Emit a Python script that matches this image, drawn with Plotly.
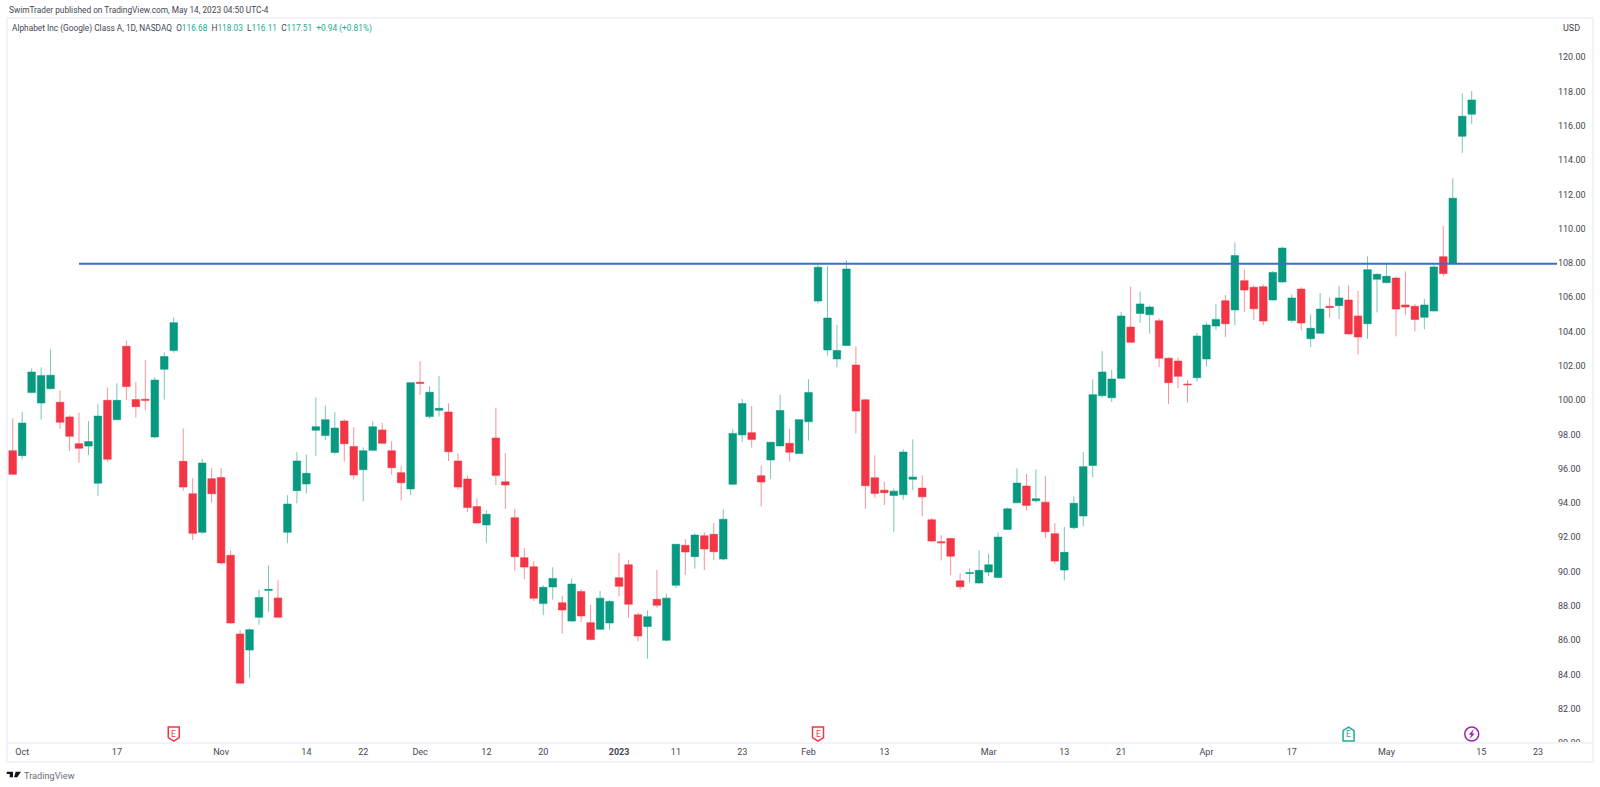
import plotly.graph_objects as go
import pandas as pd

# sessions shown on the chart, Sep 30 2022 -> May 12 2023 (then empty space on the right)
holidays = ['2022-11-24', '2022-12-26', '2023-01-02', '2023-01-16', '2023-02-20', '2023-04-07']
days = pd.bdate_range('2022-09-30', '2023-05-26')
dates = [d.strftime('%Y-%m-%d') for d in days if d.strftime('%Y-%m-%d') not in holidays]

opens = [
    97.05, 96.76, 100.44, 99.83, 100.67, 99.87, 99.02, 97.46, 97.32, 95.15,
    99.99, 98.86, 103.14, 100.03, 100.05, 97.85, 101.80, 102.89, 96.43, 94.54,
    92.29, 95.42, 95.48, 90.95, 86.36, 85.42, 87.33, 88.90, 88.46, 92.29,
    94.72, 95.11, 98.24, 97.93, 96.95, 98.78, 97.29, 95.94, 97.07, 98.26,
    97.05, 95.77, 94.82, 101.04, 99.04, 99.41, 99.31, 96.45, 95.40, 93.79,
    92.72, 97.79, 95.24, 93.14, 90.81, 90.28, 88.13, 89.10, 88.18, 87.11,
    88.83, 87.02, 86.63, 87.00, 89.64, 90.40, 87.48, 86.80, 88.38, 85.99,
    89.20, 91.53, 90.87, 92.09, 92.17, 90.73, 95.09, 97.97, 98.10, 95.59,
    96.51, 97.33, 97.48, 96.88, 98.74, 105.78, 102.92, 102.40, 103.19, 102.05,
    100.02, 95.47, 94.75, 94.44, 94.48, 95.38, 94.87, 93.02, 91.74, 91.93,
    89.46, 89.89, 89.33, 89.97, 89.66, 92.46, 94.01, 94.99, 94.13, 94.05,
    92.21, 90.09, 92.56, 93.24, 96.19, 100.26, 100.14, 101.27, 104.26, 105.06,
    104.98, 104.63, 102.45, 102.28, 100.94, 101.31, 102.40, 104.32, 105.80, 105.26,
    106.97, 106.58, 106.62, 105.84, 106.89, 104.65, 106.48, 103.58, 103.90, 105.47,
    105.51, 105.84, 104.91, 104.46, 107.05, 106.85, 107.12, 105.55, 105.47, 104.83,
    105.20, 108.37, 107.98, 115.39, 116.68,
]
highs = [
    98.94, 99.31, 101.85, 101.91, 102.96, 100.55, 99.11, 99.27, 98.78, 99.79,
    100.73, 100.98, 103.47, 101.06, 102.34, 101.33, 102.79, 104.83, 98.35, 95.44,
    96.57, 96.04, 96.04, 91.22, 86.57, 86.69, 88.94, 90.36, 89.49, 94.45,
    96.97, 96.82, 100.16, 99.68, 99.31, 98.90, 98.43, 97.25, 98.78, 98.67,
    97.62, 96.14, 101.05, 102.27, 100.81, 101.41, 99.81, 96.90, 95.61, 94.27,
    93.57, 99.56, 96.90, 93.67, 91.37, 90.62, 89.20, 90.25, 88.59, 89.60,
    88.98, 88.05, 88.87, 88.36, 91.08, 90.67, 87.62, 87.74, 90.09, 88.71,
    91.60, 91.88, 92.23, 92.29, 92.83, 93.63, 98.32, 100.07, 99.66, 96.18,
    97.58, 100.32, 98.32, 98.88, 101.22, 107.88, 107.82, 104.40, 108.17, 103.14,
    100.05, 96.78, 95.24, 94.85, 97.13, 97.71, 95.61, 93.14, 92.13, 91.97,
    89.91, 90.18, 91.25, 91.04, 92.28, 93.74, 96.02, 95.69, 95.96, 95.57,
    92.83, 92.61, 94.40, 96.97, 101.21, 102.86, 101.77, 105.14, 106.62, 106.34,
    105.53, 104.77, 102.48, 102.49, 101.17, 103.92, 104.54, 105.61, 106.13, 109.21,
    107.63, 106.71, 106.75, 107.53, 108.95, 106.17, 106.58, 105.00, 106.25, 105.99,
    106.66, 106.70, 106.37, 108.39, 107.40, 107.94, 107.20, 107.51, 105.61, 105.90,
    107.92, 110.16, 112.94, 117.90, 118.03,
]
lows = [
    95.63, 96.55, 100.40, 98.86, 100.63, 98.32, 97.03, 96.35, 96.80, 94.41,
    96.41, 98.84, 100.01, 98.98, 99.42, 97.77, 100.03, 102.77, 94.72, 91.84,
    92.19, 94.02, 90.44, 86.96, 83.45, 83.77, 86.90, 87.64, 87.31, 91.66,
    93.98, 94.56, 96.74, 97.67, 96.82, 96.41, 95.38, 94.10, 97.05, 97.44,
    95.65, 94.15, 94.45, 100.30, 98.92, 99.04, 96.45, 94.78, 93.47, 92.79,
    91.67, 95.05, 93.65, 90.05, 89.56, 88.28, 87.46, 88.36, 86.38, 87.08,
    87.05, 85.99, 86.61, 86.61, 88.55, 87.31, 85.93, 84.92, 87.89, 85.91,
    89.04, 89.80, 90.17, 90.09, 90.67, 90.65, 95.05, 97.56, 97.23, 93.80,
    95.40, 97.29, 96.41, 96.85, 97.64, 105.63, 102.59, 101.91, 103.16, 98.06,
    93.66, 94.29, 93.88, 92.30, 94.19, 94.75, 93.24, 91.74, 90.65, 89.79,
    88.94, 89.35, 89.31, 89.74, 89.64, 92.44, 93.99, 93.55, 94.03, 91.95,
    90.44, 89.48, 92.46, 92.65, 95.51, 100.14, 99.89, 101.25, 103.35, 104.50,
    103.87, 101.93, 99.77, 100.70, 99.85, 101.08, 101.95, 104.09, 103.68, 104.37,
    105.14, 104.67, 104.37, 105.82, 106.87, 104.52, 104.07, 103.10, 103.88, 104.81,
    104.73, 103.84, 102.67, 103.57, 105.12, 106.83, 103.72, 104.97, 104.00, 104.13,
    105.18, 107.22, 107.96, 114.42, 116.11,
]
closes = [
    95.67, 98.66, 101.64, 101.43, 101.45, 98.71, 97.89, 97.19, 97.58, 99.07,
    96.55, 99.99, 100.79, 99.62, 99.99, 101.17, 102.54, 104.52, 94.93, 92.23,
    96.33, 94.54, 90.50, 87.00, 83.49, 86.61, 88.49, 88.96, 87.33, 93.94,
    96.45, 95.73, 98.45, 98.86, 98.37, 97.46, 95.63, 97.05, 98.45, 97.48,
    96.06, 95.18, 101.02, 100.98, 100.46, 99.52, 96.99, 94.93, 93.73, 92.83,
    93.34, 95.61, 95.05, 90.87, 90.26, 88.44, 89.08, 89.60, 87.76, 89.27,
    87.41, 86.03, 88.45, 88.26, 89.14, 88.09, 86.24, 87.37, 88.03, 88.45,
    91.59, 91.14, 92.13, 91.32, 91.16, 93.05, 98.06, 99.80, 97.71, 95.22,
    97.54, 99.39, 96.96, 98.86, 100.44, 107.75, 104.79, 102.90, 107.65, 99.36,
    95.01, 94.56, 94.60, 94.69, 96.97, 95.51, 94.36, 91.78, 91.68, 90.90,
    89.11, 89.93, 90.07, 90.40, 92.01, 93.66, 95.16, 93.86, 94.25, 92.32,
    90.61, 91.12, 93.98, 96.12, 100.32, 101.64, 101.23, 104.91, 103.37, 105.61,
    105.43, 102.44, 101.02, 101.39, 100.90, 103.74, 104.38, 104.71, 104.46, 108.43,
    106.42, 105.33, 104.61, 107.45, 108.87, 105.96, 104.50, 104.19, 105.31, 105.41,
    105.96, 103.86, 103.68, 107.61, 107.34, 107.22, 105.31, 105.43, 104.71, 105.55,
    107.77, 107.38, 111.78, 116.56, 117.51,
]

tick_dates = ['2022-10-03', '2022-10-17', '2022-11-01', '2022-11-14', '2022-11-22', '2022-12-01',
              '2022-12-12', '2022-12-20', '2023-01-03', '2023-01-11', '2023-01-23', '2023-02-01',
              '2023-02-13', '2023-03-01', '2023-03-13', '2023-03-21', '2023-04-03', '2023-04-17',
              '2023-05-01', '2023-05-15', '2023-05-23']
tick_labels = ['Oct', '17', 'Nov', '14', '22', 'Dec', '12', '20', '<b>2023</b>', '11', '23', 'Feb',
               '13', 'Mar', '13', '21', 'Apr', '17', 'May', '15', '23']
price_ticks = [80, 82, 84, 86, 88, 90, 92, 94, 96, 98, 100, 102, 104, 106, 108, 110, 112, 114, 116, 118, 120]

level = 107.95
level_start = '2022-10-11'
earnings_miss = ['2022-10-25', '2023-02-02']
earnings_beat = ['2023-04-25']
dividend = ['2023-05-12']

FONT = 'Roboto'
TEXT = '#434651'
GREEN = '#089981'
RED = '#f23645'
FRAME = '#f0f3fa'
MARK_Y = 80.52

# plot area in page pixels
L, R, T, B = 7, 1557, 18, 743


def px(x):
    return (x - L) / (R - L)


def py(y):
    return (B - y) / (B - T)


fig = go.Figure()

fig.add_trace(go.Candlestick(
    x=dates[:len(closes)],
    open=opens, high=highs, low=lows, close=closes,
    increasing=dict(fillcolor=GREEN, line=dict(color='rgba(8,153,129,0.55)', width=1)),
    decreasing=dict(fillcolor=RED, line=dict(color='rgba(242,54,69,0.55)', width=1)),
    whiskerwidth=0,
    showlegend=False,
))

fig.add_trace(go.Scatter(
    x=[level_start, dates[-1]], y=[level, level],
    mode='lines', line=dict(color='#3a6fc4', width=2),
    showlegend=False,
))

shapes = []

# earnings flags, drawn in pixels around their date
down_flag = 'M -5.5 7 L 5.5 7 L 5.5 -3.5 L 0 -7 L -5.5 -3.5 Z'
up_flag = 'M -5.5 -7 L 5.5 -7 L 5.5 3.5 L 0 7 L -5.5 3.5 Z'
bolt = 'M 2 5 L -3 -0.7 L -0.5 -0.7 L -2 -5 L 3 0.7 L 0.5 0.7 Z'
for d in earnings_miss:
    shapes.append(dict(type='path', path=down_flag, xsizemode='pixel', ysizemode='pixel',
                       xanchor=d, yanchor=MARK_Y, xref='x', yref='y',
                       line=dict(color=RED, width=1.5), fillcolor='white'))
for d in earnings_beat:
    shapes.append(dict(type='path', path=up_flag, xsizemode='pixel', ysizemode='pixel',
                       xanchor=d, yanchor=MARK_Y, xref='x', yref='y',
                       line=dict(color='#22ab94', width=1.5), fillcolor='white'))
for d in dividend:
    shapes.append(dict(type='circle', xsizemode='pixel', ysizemode='pixel',
                       xanchor=d, yanchor=MARK_Y, xref='x', yref='y',
                       x0=-7, x1=7, y0=-7, y1=7,
                       line=dict(color='#9c27b0', width=1.5), fillcolor='white'))
    shapes.append(dict(type='path', path=bolt, xsizemode='pixel', ysizemode='pixel',
                       xanchor=d, yanchor=MARK_Y, xref='x', yref='y',
                       line=dict(width=0), fillcolor='#9c27b0'))

# hides the lower half of the 80.00 label, the axis cuts it in the original
shapes.append(dict(type='rect', xref='paper', yref='paper', x0=px(1558), x1=px(1592), y0=py(761), y1=py(743),
                   fillcolor='white', line=dict(width=0), layer='above'))
# outer frame and the line above the time scale
shapes.append(dict(type='rect', xref='paper', yref='paper', x0=px(7), x1=px(1593), y0=py(762), y1=py(18),
                   line=dict(color=FRAME, width=2), layer='above'))
shapes.append(dict(type='line', xref='paper', yref='paper', x0=px(7), x1=px(1593), y0=py(743), y1=py(743),
                   line=dict(color=FRAME, width=2), layer='above'))

# logo bottom left
logo = (f'M {px(6.7)} {py(771.7)} L {px(13)} {py(771.7)} L {px(13)} {py(777.2)} L {px(9.7)} {py(777.2)} '
        f'L {px(9.7)} {py(774)} L {px(6.7)} {py(774)} Z '
        f'M {px(15.7)} {py(771.7)} L {px(21)} {py(771.7)} L {px(17.3)} {py(777.2)} L {px(14)} {py(777.2)} Z')
shapes.append(dict(type='path', path=logo, xref='paper', yref='paper', fillcolor='#131722', line=dict(width=0)))

ann = []


def note(x, y, text, size=8.3, color=TEXT, anchor='left'):
    ann.append(dict(xref='paper', yref='paper', x=px(x), y=py(y), text=text, showarrow=False,
                    xanchor=anchor, yanchor='middle', font=dict(family=FONT, size=size, color=color)))


up = '#22ab94'
note(7, 10, 'SwimTrader published on TradingView.com, May 14, 2023 04:50 UTC-4')
note(10, 29, 'Alphabet Inc (Google) Class A, 1D, NASDAQ&nbsp;&nbsp;'
     f'O<span style="color:{up}">116.68</span>&nbsp;&nbsp;H<span style="color:{up}">118.03</span>&nbsp;&nbsp;'
     f'L<span style="color:{up}">116.11</span>&nbsp;&nbsp;C<span style="color:{up}">117.51</span>&nbsp;&nbsp;'
     f'<span style="color:{up}">+0.94 (+0.81%)</span>')
note(1561, 28, 'USD', size=9)
note(22, 775, 'TradingView', size=9.2, color='#6a6d78')

for d in earnings_miss:
    ann.append(dict(x=d, y=MARK_Y, text='E', showarrow=False, font=dict(family=FONT, size=8.5, color=RED)))
for d in earnings_beat:
    ann.append(dict(x=d, y=MARK_Y, text='E', showarrow=False, font=dict(family=FONT, size=8.5, color='#22ab94')))

fig.update_layout(
    width=1600,
    height=787,
    margin=dict(l=L, r=1600 - R, t=T, b=787 - B),
    paper_bgcolor='white',
    plot_bgcolor='white',
    boxgap=0.2,
    boxgroupgap=0,
    showlegend=False,
    shapes=shapes,
    annotations=ann,
    xaxis=dict(
        type='category',
        categoryorder='array',
        categoryarray=dates,
        range=[-0.6, 163.0],
        tickmode='array',
        tickvals=tick_dates,
        ticktext=tick_labels,
        tickangle=0,
        ticklabelstandoff=2,
        rangeslider=dict(visible=False),
        showgrid=False,
        zeroline=False,
        ticks='',
        tickfont=dict(family=FONT, size=9, color=TEXT),
    ),
    yaxis=dict(
        side='right',
        range=[80, 122.29],
        tickmode='array',
        tickvals=price_ticks,
        tickformat='.2f',
        showgrid=False,
        zeroline=False,
        ticks='',
        tickfont=dict(family=FONT, size=9, color=TEXT),
    ),
)

fig.write_html("out.html", config={"displayModeBar": False},
               post_script="document.body.style.margin='0';")
